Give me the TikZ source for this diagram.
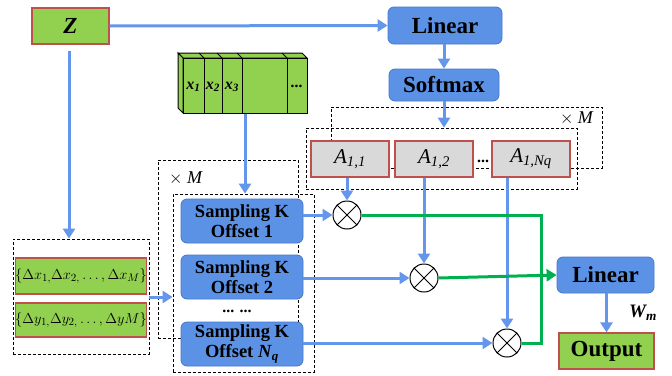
\documentclass[tikz,border=0pt]{standalone}
\usepackage{fontspec}
\setmainfont{Liberation Serif}
\usetikzlibrary{arrows.meta,calc}
\definecolor{boxblue}{RGB}{91,146,229}
\definecolor{boxedge}{RGB}{70,120,205}
\definecolor{lineblue}{RGB}{100,150,235}
\definecolor{leafgreen}{RGB}{146,208,80}
\definecolor{brick}{RGB}{192,80,77}
\definecolor{sumgreen}{RGB}{0,176,80}
\definecolor{cellgray}{RGB}{217,217,217}
\begin{document}
\begin{tikzpicture}[x=1pt,y=-1pt,
  bluebox/.style={draw=boxedge, fill=boxblue, rounded corners=6pt, line width=0.8pt,
    inner sep=0pt, font=\fontsize{23}{25}\selectfont\bfseries},
  sampbox/.style={bluebox, minimum width=122pt, minimum height=44pt, align=center,
    font=\fontsize{18.5}{20.5}\selectfont\bfseries},
  greenbox/.style={draw=brick, fill=leafgreen, line width=1.2pt, inner sep=0pt},
  cellbox/.style={draw=brick, fill=cellgray, line width=1.2pt, inner sep=0pt,
    minimum width=78pt, minimum height=36pt, font=\fontsize{21}{23}\selectfont\itshape},
  dashbox/.style={draw=black, line width=0.8pt, dash pattern=on 3pt off 2pt,
    inner sep=0pt},
  flow/.style={draw=lineblue, line width=3pt, -{Triangle[length=10pt,width=12pt]}},
  sumline/.style={draw=sumgreen, line width=3pt},
  mult/.style={circle, draw=black, line width=1pt, fill=white, minimum size=28pt,
    inner sep=0pt, path picture={
      \draw[line width=1pt] (path picture bounding box.north west) -- (path picture bounding box.south east)
        (path picture bounding box.north east) -- (path picture bounding box.south west);}},
  stackline/.style={draw=black, line width=1pt, fill=leafgreen},
  tag/.style={inner sep=0pt, font=\fontsize{18}{20}\selectfont},
  dotsnode/.style={inner sep=0pt, font=\fontsize{16}{16}\selectfont\bfseries}
]
\useasboundingbox (0,0) rectangle (672,375);

% --- query branch ---
\node[greenbox, minimum width=77pt, minimum height=36pt,
  font=\fontsize{23}{25}\selectfont\bfseries\itshape] (z) at (70.5,26) {Z};
\node[bluebox, minimum width=114pt, minimum height=37pt] (lin1) at (445,25.5) {Linear};
\node[bluebox, minimum width=110pt, minimum height=32pt] (soft) at (444,85) {Softmax};

% --- attention weight boxes ---
\node[dashbox, minimum width=271pt, minimum height=61pt] (aout) at (466.5,137.5) {};
\node[dashbox, minimum width=271pt, minimum height=61pt] (ain) at (441.5,158.5) {};
\node[tag, anchor=east] (xm1) at (594,118) {$\times$ \textit{M}};
\node[cellbox] (a11) at (350,159) {A\textsubscript{1,1}};
\node[cellbox] (a12) at (434,159) {A\textsubscript{1,2}};
\node[cellbox] (a1n) at (531,159) {A\textsubscript{1,\textit{Nq}}};
\node[dotsnode] (adots) at (483,161) {...};

% --- value stack ---
\draw[stackline] (178,53) -- (302,53) -- (307,58) -- (183,58) -- cycle;
\draw[stackline] (178,53) -- (183,58) -- (183,113) -- (178,108) -- cycle;
\node[stackline, minimum width=124pt, minimum height=55pt, inner sep=0pt] (stack) at (245,85.5) {};
\foreach \xx in {204,222,242,287} {
  \draw[line width=1pt] (\xx,58) -- (\xx,113);
  \draw[line width=1pt] (\xx,58) -- (\xx-5,53);
}
\begin{scope}[every node/.style={inner sep=0pt, font=\fontsize{16}{16}\selectfont\bfseries\itshape}]
  \node (sx1) at (193.5,87) {x\textsubscript{1}};
  \node (sx2) at (213,87) {x\textsubscript{2}};
  \node (sx3) at (232,87) {x\textsubscript{3}};
  \node (sxd) at (297,86) {...};
\end{scope}

% --- offsets ---
\node[dashbox, minimum width=136pt, minimum height=115pt] (offs) at (81,296.5) {};
\node[greenbox, minimum width=124pt, minimum height=36pt, font=\fontsize{15.5}{16}\selectfont] (dx) at (81,276)
  {$\{\Delta x_{1,} \Delta x_{2,} \ldots, \Delta x_M\}$};
\node[greenbox, minimum width=124pt, minimum height=34pt, font=\fontsize{15.5}{16}\selectfont] (dy) at (81,320)
  {$\{\Delta y_{1,} \Delta y_{2,} \ldots, \Delta yM\}$};

% --- sampling ---
\node[dashbox, minimum width=140pt, minimum height=178pt] (sout) at (228,249) {};
\node[dashbox, minimum width=141pt, minimum height=178pt] (sin) at (243.5,283) {};
\node[tag] (xm2) at (186,178) {$\times$ \textit{M}};
\node[sampbox] (s1) at (242,221) {Sampling K\\Offset 1};
\node[sampbox] (s2) at (242,277) {Sampling K\\Offset 2};
\node[sampbox] (s3) at (242,344) {Sampling K\\Offset \textit{N}\textsubscript{\textit{q}}};
\node[dotsnode] (sdots) at (237,311) {... ...};

% --- products and output ---
\node[mult] (c1) at (347,215) {};
\node[mult] (c2) at (424,278) {};
\node[mult] (c3) at (507,343) {};
\node[bluebox, minimum width=97pt, minimum height=36pt] (lin2) at (605.5,275) {Linear};
\node[greenbox, minimum width=95pt, minimum height=36pt,
  font=\fontsize{23}{25}\selectfont\bfseries] (out) at (606.5,351) {Output};
\node[inner sep=0pt, font=\fontsize{19}{20}\selectfont\bfseries\itshape] (wm) at (643,313) {W\textsubscript{m}};
\coordinate (sumcorner) at (541,215);

% --- connectors ---
\draw[flow] (z.east) -- (lin1.west);
\draw[flow] (soft.north |- lin1.south) -- (soft.north);
\draw[flow] (soft.south) -- (soft.south |- ain.north);
\draw[flow] ($(z.south)+(-1.5,6)$) -- ($(z.south |- offs.north)+(-1.5,0)$);
\draw[flow] (offs.east |- 0,297) -- (sin.west |- 0,297);
\draw[flow] (stack.south) -- (stack.south |- sin.north);
\draw[flow] (c1 |- a11.south) -- (c1.north);
\draw[flow] (c2 |- a12.south) -- (c2.north);
\draw[flow] (c3 |- a1n.south) -- (c3.north);
\draw[flow] (s1.east |- c1) -- (c1.west);
\draw[flow] (s2.east |- c2) -- (c2.west);
\draw[flow] (s3.east |- c3) -- (c3.west);
\draw[flow] (lin2.south -| out.north) -- (out.north);
\draw[sumline] (c1.east) -- (sumcorner) -- (sumcorner |- c3) -- (c3.east);
\draw[sumline, -{Triangle[length=10pt,width=12pt]}] (c2.east) -- (lin2.west);
\end{tikzpicture}
\end{document}
